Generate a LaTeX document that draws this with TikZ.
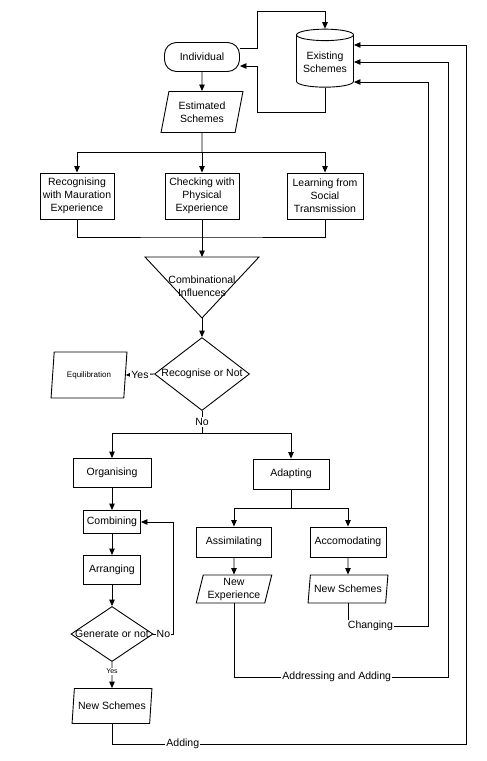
\documentclass[tikz,border=0pt]{standalone}
\usepackage{fontspec}
\setmainfont{Liberation Sans}
\usetikzlibrary{shapes.geometric, arrows.meta}

\begin{document}
\begin{tikzpicture}[x=1pt, y=-1pt,
	every node/.style={font=\fontsize{10.5}{13}\selectfont},
	process/.style={rectangle, draw=black, line width=0.9pt, align=center, inner sep=1pt},
	terminal/.style={rectangle, rounded corners=12pt, draw=black, line width=0.9pt, inner sep=1pt},
	inout/.style={trapezium, trapezium left angle=75, trapezium right angle=105, trapezium stretches=true, draw=black, line width=0.9pt, align=center, inner sep=0pt},
	decision/.style={diamond, draw=black, line width=0.9pt, inner sep=0pt},
	store/.style={cylinder, shape border rotate=90, aspect=0.25, draw=black, line width=0.9pt, align=center, inner sep=1pt},
	flow/.style={-{Triangle[length=6.5pt, width=5.5pt]}, line width=0.9pt},
	link/.style={line width=0.9pt},
	tag/.style={fill=white, inner sep=1pt}]
		\useasboundingbox (0,0) rectangle (487,761);

		\node[terminal, minimum width=75pt, minimum height=29pt](ind) at (202,57){Individual};
		\node[store, minimum width=57pt, minimum height=58pt](cyl) at (325,62){Existing\\Schemes};
		\node[inout, minimum width=82pt, minimum height=41pt](est) at (202,112){Estimated\\Schemes};

		\node[process, minimum width=74pt, minimum height=46pt](matur) at (77,196){Recognising\\with Mauration\\Experience};
		\node[process, minimum width=74pt, minimum height=46pt](phys) at (202,196){Checking with\\Physical\\Experience};
		\node[process, minimum width=76pt, minimum height=46pt](social) at (325,196){Learning from\\Social\\Transmission};

		\coordinate (split1) at (202,152);
		\coordinate (join1) at (202,237);
		\coordinate (combL) at (145,257);
		\coordinate (combR) at (259,257);
		\coordinate (combTop) at (202,257);
		\coordinate (combApex) at (202,318);
		\draw[link] (combL) -- (combR) -- (combApex) -- cycle;
		\node[align=center](combText) at (202,286){Combinational\\Influences};

		\node[decision, minimum width=95pt, minimum height=73pt, label=center:{Recognise or Not}](rec) at (202,374){};
		\node[inout, minimum width=76pt, minimum height=46pt, font=\fontsize{8}{10}\selectfont](equil) at (89,375){Equilibration};
		\coordinate (split2) at (202,433);

		\node[process, minimum width=78pt, minimum height=29pt](org) at (112,473){Organising};
		\node[process, minimum width=57pt, minimum height=23pt](combine) at (112,522){Combining};
		\node[process, minimum width=57pt, minimum height=29pt](arrange) at (112,570){Arranging};
		\node[decision, minimum width=82pt, minimum height=55pt, label=center:{Generate or not}](gen) at (112,634){};
		\node[inout, minimum width=80pt, minimum height=35pt](newSchA) at (112,706){New Schemes};

		\node[process, minimum width=76pt, minimum height=30pt](adapt) at (291,474){Adapting};
		\coordinate (split3) at (291,508);
		\node[process, minimum width=75pt, minimum height=30pt](assim) at (234,542){Assimilating};
		\node[process, minimum width=76pt, minimum height=30pt](accom) at (348,542){Accomodating};
		\node[inout, minimum width=76pt, minimum height=28pt](newExp) at (234,589){New\\Experience};
		\node[inout, minimum width=80pt, minimum height=28pt](newSchB) at (348,589){New Schemes};

		% draw loop between individual and existing schemes
		\draw[flow] ([yshift=9pt]ind.east) -| (257,11) -| (cyl.north);
		\draw[flow] (cyl.south) |- (257,112) |- ([yshift=-9pt]ind.east);

		% draw main edges
		\draw[flow] (ind.south) -- (est.north);
		\draw[link] (est.south) -- (split1);
		\draw[flow] (split1) -| (matur.north);
		\draw[flow] (split1) -- (phys.north);
		\draw[flow] (split1) -| (social.north);
		\draw[link] (matur.south) |- (join1) -| (social.south);
		\draw[flow] (phys.south) -- (combTop);
		\draw[flow] (combApex) -- (rec.north);
		\draw[flow] (rec.west) -- node[tag]{Yes} (equil.east);
		\draw[link] (rec.south) -- node[tag]{No} (split2);
		\draw[flow] (split2) -| (org.north);
		\draw[flow] (split2) -| (adapt.north);

		% draw organising edges
		\draw[flow] (org.south) -- (combine.north);
		\draw[flow] (combine.south) -- (arrange.north);
		\draw[flow] (arrange.south) -- (gen.north);
		\draw[flow] (gen.east) -- node[tag]{No} ++(20,0) |- (combine.east);
		\draw[flow] (gen.south) -- node[tag, pos=0.35, font=\fontsize{7}{8}\selectfont]{Yes} (newSchA.north);

		% draw adapting edges
		\draw[link] (adapt.south) -- (split3);
		\draw[flow] (split3) -| (assim.north);
		\draw[flow] (split3) -| (accom.north);
		\draw[flow] (assim.south) -- (newExp.north);
		\draw[flow] (accom.south) -- (newSchB.north);

		% draw return edges
		\draw[flow] (newSchB.south) |- node[tag, pos=0.64]{Changing} (428,626) |- ([yshift=-20pt]cyl.east);
		\draw[flow] (newExp.south) |- node[tag, pos=0.74]{Addressing and Adding} (448,677) |- (cyl.east);
		\draw[flow] (newSchA.south) |- node[tag, pos=0.6]{Adding} (466,744) |- ([yshift=17pt]cyl.east);
	\end{tikzpicture}
\end{document}
